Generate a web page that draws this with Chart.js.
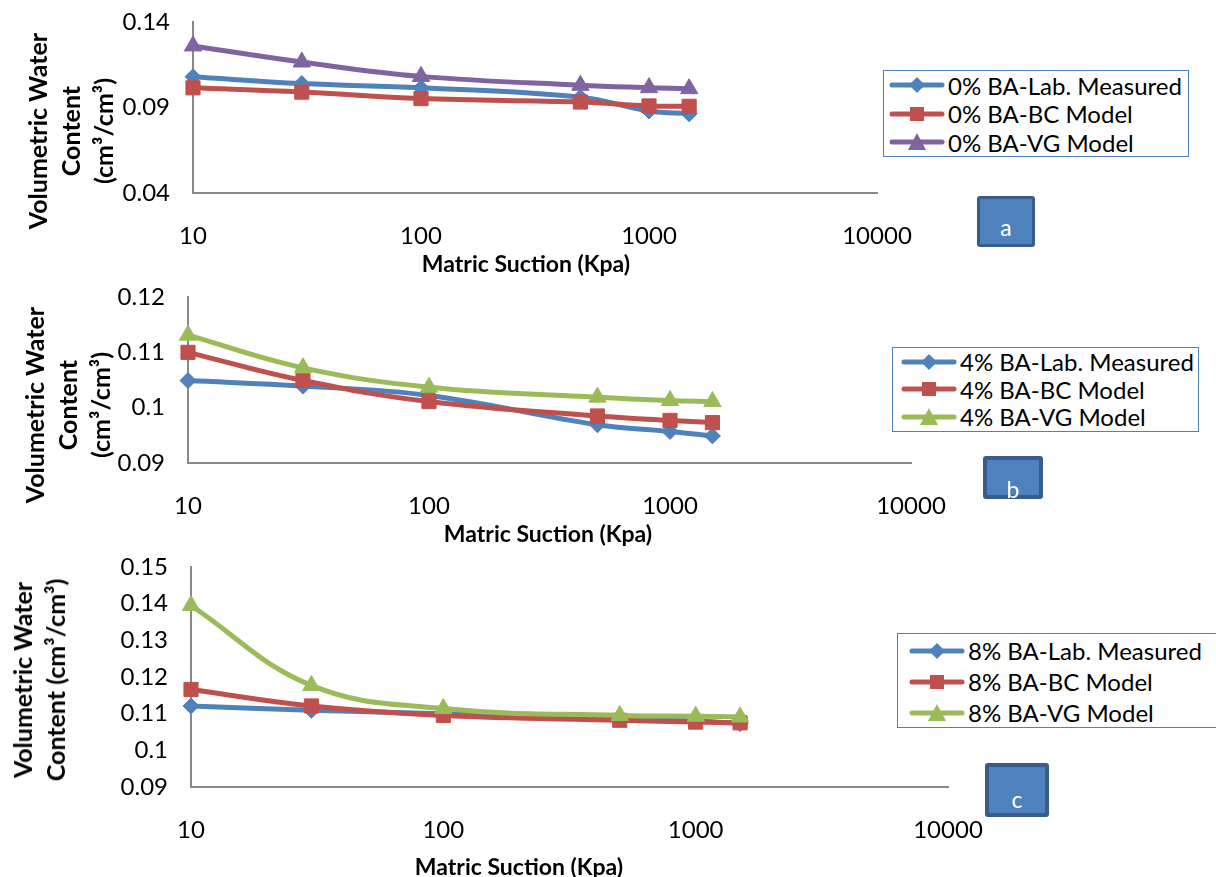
<!DOCTYPE html>
<html>
<head>
<meta charset="utf-8">
<script src="https://cdn.jsdelivr.net/npm/chart.js@4.4.1/dist/chart.umd.min.js"></script>
<style>
  body { margin: 0; background: #fff; font-family: Lato, sans-serif; }
  #page { position: relative; width: 1216px; height: 877px; overflow: hidden; }
  canvas { position: absolute; left: 0; }
  .ytitle { position: absolute; font-weight: bold; font-size: 25px; line-height: 33px; text-align: center;
            white-space: nowrap; transform: translate(-50%, -50%) rotate(-90deg); color: #000; }
  .xtitle { position: absolute; font-weight: bold; font-size: 23px; white-space: nowrap;
            transform: translate(-50%, -50%); color: #000; }
  .legend { position: absolute; border: 1.5px solid #4F81BD; background: #fff; box-sizing: border-box; }
  .legend .row { display: flex; align-items: center; font-size: 24px; color: #000; white-space: nowrap; }
  .legend svg { flex: none; margin-right: 3px; }
  .tag { position: absolute; background: #4F81BD; border: 3px solid #385D8A; border-radius: 3px; box-sizing: border-box;
         color: #fff; font-size: 23px; text-align: center; }
</style>
</head>
<body>
<div id="page">
  <canvas id="chart-a" width="1216" height="280" style="top:0px"></canvas>
  <canvas id="chart-b" width="1216" height="280" style="top:275px"></canvas>
  <canvas id="chart-c" width="1216" height="332" style="top:545px"></canvas>
</div>
<script>
// soil water retention: volumetric water content vs matric suction
const suction = [10, 30, 100, 500, 1000, 1500];
const xTickValues = [10, 100, 1000, 10000];

// panel a - 0% BA
const labelsA = ['0% BA-Lab. Measured', '0% BA-BC Model', '0% BA-VG Model'];
const measuredA = [0.108, 0.104, 0.1015, 0.096, 0.088, 0.0863];
const bcModelA = [0.1015, 0.099, 0.0952, 0.0932, 0.0909, 0.0907];
const vgModelA = [0.126, 0.1166, 0.1082, 0.103, 0.1016, 0.101];
const yTicksA = [0.04, 0.09, 0.14];

// panel b - 4% BA
const labelsB = ['4% BA-Lab. Measured', '4% BA-BC Model', '4% BA-VG Model'];
const measuredB = [0.1049, 0.1039, 0.1022, 0.0969, 0.0957, 0.0949];
const bcModelB = [0.110, 0.1049, 0.1011, 0.0985, 0.0977, 0.0973];
const vgModelB = [0.1131, 0.1072, 0.1037, 0.1019, 0.1013, 0.1011];
const yTicksB = [0.09, 0.1, 0.11, 0.12];

// panel c - 8% BA
const labelsC = ['8% BA-Lab. Measured', '8% BA-BC Model', '8% BA-VG Model'];
const measuredC = [0.1121, 0.1109, 0.110, 0.1085, 0.108, 0.1073];
const bcModelC = [0.1166, 0.1121, 0.1095, 0.1082, 0.1077, 0.1075];
const vgModelC = [0.1395, 0.1177, 0.1114, 0.1095, 0.1093, 0.1091];
const yTicksC = [0.09, 0.1, 0.11, 0.12, 0.13, 0.14, 0.15];

const colorsA = ['#4F81BD', '#C0504D', '#8064A2'];
const colorsBC = ['#4F81BD', '#C0504D', '#9BBB59'];
const markers = ['rectRot', 'rect', 'triangle'];
const markerRadius = [8, 10, 10];

const page = document.getElementById('page');
const fontFamily = 'Lato, sans-serif';

function addEl(cls, css, html) {
    const el = document.createElement('div');
    el.className = cls;
    el.style.cssText = css;
    el.innerHTML = html;
    page.appendChild(el);
    return el;
}

function markerSvg(color, shape) {
    let m = '';
    if (shape === 'rectRot') m = '<polygon points="28,3 36,11 28,19 20,11" fill="' + color + '"/>';
    if (shape === 'rect') m = '<rect x="21" y="4" width="14" height="14" fill="' + color + '"/>';
    if (shape === 'triangle') m = '<polygon points="28,2 37,19 19,19" fill="' + color + '"/>';
    return '<svg width="56" height="22"><line x1="3" y1="11" x2="53" y2="11" stroke="' + color
        + '" stroke-width="5" stroke-linecap="round"/>' + m + '</svg>';
}

function buildLegend(css, rowH, labels, colors) {
    let html = '';
    labels.forEach((l, i) => {
        html += '<div class="row" style="height:' + rowH + 'px">' + markerSvg(colors[i], markers[i]) + l + '</div>';
    });
    addEl('legend', css, html);
}

function drawPanel(canvasId, frame, labels, series, colors, yTicks) {
    new Chart(document.getElementById(canvasId), {
        type: 'line',
        data: {
            datasets: series.map((vals, i) => ({
                label: labels[i],
                data: suction.map((x, j) => ({ x: x, y: vals[j] })),
                borderColor: colors[i],
                backgroundColor: colors[i],
                pointBorderColor: colors[i],
                borderWidth: 5,
                tension: 0.4,
                pointStyle: markers[i],
                pointRadius: markerRadius[i],
                pointBorderWidth: 1,
                order: 3 - i,
                clip: false
            }))
        },
        options: {
            responsive: false,
            animation: false,
            layout: { padding: { top: frame.top, right: frame.right, left: 0, bottom: 0 } },
            plugins: { legend: { display: false }, tooltip: { enabled: false } },
            scales: {
                x: {
                    type: 'logarithmic',
                    min: 10,
                    max: 10000,
                    afterBuildTicks: s => { s.ticks = xTickValues.map(v => ({ value: v })); },
                    afterFit: s => { s.height = frame.xh; },
                    grid: { display: false, drawTicks: false },
                    border: { color: '#898989', width: 2 },
                    ticks: {
                        padding: 29, color: '#000', maxRotation: 0, autoSkip: false,
                        font: { family: fontFamily, size: 24 },
                        callback: v => String(v)
                    }
                },
                y: {
                    min: yTicks[0],
                    max: yTicks[yTicks.length - 1],
                    afterBuildTicks: s => { s.ticks = yTicks.map(v => ({ value: v })); },
                    afterFit: s => { s.width = frame.yw; },
                    // label gap comes from an invisible tick mark so it does not pad the chart top
                    grid: { display: false, drawTicks: true, tickLength: 23, tickColor: 'rgba(0,0,0,0)' },
                    border: { color: '#898989', width: 2 },
                    ticks: {
                        padding: 0, color: '#000',
                        font: { family: fontFamily, size: 24 },
                        callback: v => String(+v.toFixed(3))
                    }
                }
            }
        }
    });
}

drawPanel('chart-a', { top: 22, right: 339, yw: 193, xh: 87 }, labelsA, [measuredA, bcModelA, vgModelA], colorsA, yTicksA);
drawPanel('chart-b', { top: 22, right: 305, yw: 188, xh: 92 }, labelsB, [measuredB, bcModelB, vgModelB], colorsBC, yTicksB);
drawPanel('chart-c', { top: 22, right: 268, yw: 191, xh: 90 }, labelsC, [measuredC, bcModelC, vgModelC], colorsBC, yTicksC);

// axis titles
const yTitleA = 'Volumetric Water<br>Content<br>(cm³/cm³)';
const yTitleC = 'Volumetric Water<br>Content (cm³/cm³)';
const xTitle = 'Matric Suction (Kpa)';
addEl('ytitle', 'left:70px; top:131px;', yTitleA);
addEl('ytitle', 'left:67px; top:405px;', yTitleA);
addEl('ytitle', 'left:39px; top:680px;', yTitleC);
addEl('xtitle', 'left:526px; top:263px;', xTitle);
addEl('xtitle', 'left:548px; top:533px;', xTitle);
addEl('xtitle', 'left:519px; top:866px;', xTitle);

// legends
buildLegend('left:883px; top:70px; width:306px; height:87px; padding:0 0 0 5px;', 28.5, labelsA, colorsA);
buildLegend('left:892px; top:347px; width:307px; height:85px; padding:0 0 0 8px;', 27.5, labelsB, colorsBC);
buildLegend('left:897px; top:633px; width:340px; height:95px; padding:1px 0 0 11px;', 31, labelsC, colorsBC);

// panel tags
addEl('tag', 'left:977px; top:196px; width:58px; height:51px; line-height:56px;', 'a');
addEl('tag', 'left:983px; top:456px; width:60px; height:43px; line-height:58px; border-width:4px;', 'b');
addEl('tag', 'left:985px; top:763px; width:64px; height:54px; line-height:64px; border-width:4px;', 'c');
</script>
</body>
</html>
